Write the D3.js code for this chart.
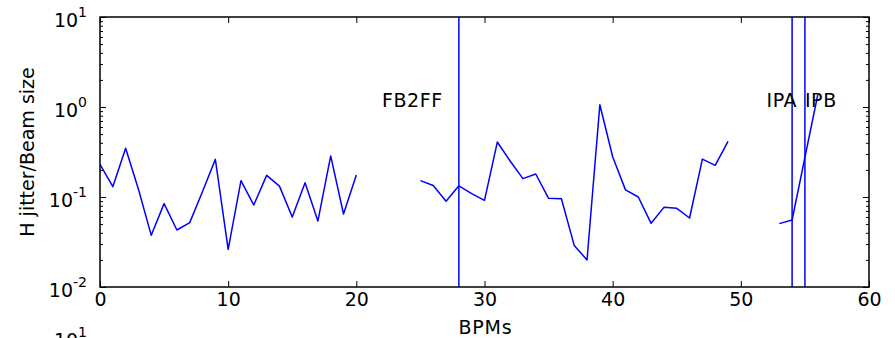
<!DOCTYPE html>
<html><head><meta charset="utf-8">
<script src="https://cdn.jsdelivr.net/npm/d3@7"></script>
<style>
body{margin:0;background:#fff;overflow:hidden;}
svg{display:block;font-family:"DejaVu Sans",sans-serif;}
</style>
</head><body>
<svg id="c" width="895" height="338"></svg>
<script>
// ---- data ----
const bpms = d3.range(0, 57);
const jitter = [0.231,0.130,0.348,0.122,0.0375,0.0844,0.043,0.0519,0.115,0.262,
  0.0262,0.152,0.0814,0.174,0.132,0.060,0.144,0.054,0.286,0.0647,0.176,
  null,null,null,null,
  0.152,0.134,0.0896,0.133,0.109,0.0918,0.408,0.251,0.160,0.180,0.0966,0.0958,
  0.029,0.020,1.06,0.280,0.120,0.100,0.051,0.0767,0.0748,0.0584,0.264,0.225,0.416,
  null,null,null,
  0.0506,0.0555,0.276,1.36];
const markerPositions = [28, 54, 55];
const markerLabels = ["FB2FF", "IPA", "IPB"];
const markerLabelX = [22, 52, 55];
const markerLabelY = [1, 1, 1];
const xTicks = [0, 10, 20, 30, 40, 50, 60];
const yTicks = [0.01, 0.1, 1, 10];
const yTickExp = ["-2", "-1", "0", "1"];
const xLabel = "BPMs";
const yLabel = "H jitter/Beam size";

// ---- layout ----
const L = 100, T = 17, W = 769, H = 270;
const svg = d3.select("#c");
const x = d3.scaleLinear().domain([0, 60]).range([L, L + W]);
const y = d3.scaleLog().domain([0.01, 10]).range([T + H, T]);

const minors = [];
[0.01, 0.1, 1].forEach(d => { for (let k = 2; k <= 9; k++) minors.push(d * k); });

const fs = 19;

// data line
const line = d3.line()
  .defined(d => d[1] != null)
  .x(d => x(d[0])).y(d => y(d[1]));
svg.append("path")
  .datum(bpms.map((b, i) => [b, jitter[i]]))
  .attr("d", line)
  .attr("fill", "none").attr("stroke", "#0000ff").attr("stroke-width", 1.5)
  .attr("stroke-linejoin", "round");

// marker vertical lines
svg.selectAll(".vl").data(markerPositions).enter().append("line")
  .attr("x1", d => x(d)).attr("x2", d => x(d))
  .attr("y1", T).attr("y2", T + H)
  .attr("stroke", "#0000ff").attr("stroke-width", 1.5);

// marker labels
svg.selectAll(".ml").data(markerLabels).enter().append("text")
  .attr("x", (d, i) => x(markerLabelX[i]))
  .attr("y", (d, i) => y(markerLabelY[i]))
  .attr("font-size", fs).attr("letter-spacing", 0.6).attr("fill", "#000")
  .text(d => d);

function styleAxis(g) {
  g.select(".domain").remove();
  g.selectAll(".tick line").attr("stroke", "#000").attr("stroke-width", 1);
}

// x axes
const gxb = svg.append("g").attr("transform", `translate(0,${T + H})`)
  .call(d3.axisBottom(x).tickValues(xTicks).tickFormat(d3.format("d"))
    .tickSize(-6).tickSizeOuter(0).tickPadding(6));
styleAxis(gxb);
gxb.selectAll("text").attr("font-size", fs).attr("font-family", "DejaVu Sans").attr("fill", "#000");

const gxt = svg.append("g").attr("transform", `translate(0,${T})`)
  .call(d3.axisTop(x).tickValues(xTicks).tickFormat("").tickSize(-6).tickSizeOuter(0));
styleAxis(gxt);

// y axes (major + minor, left + right)
const gyl = svg.append("g").attr("transform", `translate(${L},0)`)
  .call(d3.axisLeft(y).tickValues(yTicks).tickFormat("").tickSize(-6).tickSizeOuter(0));
styleAxis(gyl);
const gylm = svg.append("g").attr("transform", `translate(${L},0)`)
  .call(d3.axisLeft(y).tickValues(minors).tickFormat("").tickSize(-3).tickSizeOuter(0));
styleAxis(gylm);
const gyr = svg.append("g").attr("transform", `translate(${L + W},0)`)
  .call(d3.axisRight(y).tickValues(yTicks).tickFormat("").tickSize(-6).tickSizeOuter(0));
styleAxis(gyr);
const gyrm = svg.append("g").attr("transform", `translate(${L + W},0)`)
  .call(d3.axisRight(y).tickValues(minors).tickFormat("").tickSize(-3).tickSizeOuter(0));
styleAxis(gyrm);

// y tick labels with superscripts
function powLabel(sel, ty) {
  return sel.append("text")
    .attr("x", 87).attr("y", ty + 10)
    .attr("text-anchor", "end").attr("font-size", fs).attr("fill", "#000");
}
yTicks.forEach((v, i) => {
  const t = powLabel(svg, y(v));
  t.append("tspan").text("10");
  t.append("tspan").attr("dy", -10).attr("font-size", 14).text(yTickExp[i]);
});
// top tick label of the subplot below (cut off by the image edge, as in the reference)
{
  const t = powLabel(svg, 337);
  t.append("tspan").text("10");
  t.append("tspan").attr("dy", -10).attr("font-size", 14).text(yTickExp[3]);
}

// frame
svg.append("rect").attr("x", L).attr("y", T).attr("width", W).attr("height", H)
  .attr("fill", "none").attr("stroke", "#000").attr("stroke-width", 1.5);

// axis titles
svg.append("text").attr("x", L + W / 2 + 1).attr("y", 334)
  .attr("text-anchor", "middle").attr("font-size", fs).attr("letter-spacing", 0.8)
  .attr("fill", "#000").text(xLabel);
svg.append("text")
  .attr("transform", `translate(34,${T + H / 2}) rotate(-90)`)
  .attr("text-anchor", "middle").attr("font-size", fs).attr("fill", "#000").text(yLabel);
</script>
</body></html>
